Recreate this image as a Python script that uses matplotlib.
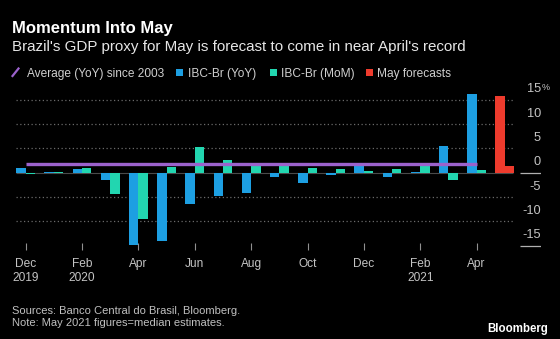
import matplotlib
matplotlib.use("Agg")
import matplotlib.pyplot as plt
import matplotlib.transforms as mtransforms
from matplotlib.lines import Line2D
from matplotlib.patches import Rectangle
import numpy as np

# ---------------- data ----------------
months = ["Dec 2019", "Jan 2020", "Feb 2020", "Mar 2020", "Apr 2020", "May 2020",
          "Jun 2020", "Jul 2020", "Aug 2020", "Sep 2020", "Oct 2020", "Nov 2020",
          "Dec 2020", "Jan 2021", "Feb 2021", "Mar 2021", "Apr 2021"]
yoy = [0.95, 0.2, 0.7, -1.6, -14.8, -14.0, -6.4, -4.8, -4.25, -0.8, -2.05, -0.5,
       1.9, -0.95, 0.15, 5.5, 16.2]
mom = [-0.3, 0.15, 0.95, -4.4, -9.45, 1.25, 5.35, 2.6, 1.45, 1.45, 0.9, 0.7,
       0.4, 0.7, 1.6, -1.5, 0.5]
forecast_month = "May 2021"
forecast_yoy = 15.75
forecast_mom = 1.4
avg_yoy = 1.8

xtick_labels = ["Dec\n2019", "Feb\n2020", "Apr", "Jun", "Aug", "Oct", "Dec",
                "Feb\n2021", "Apr"]
ytick_values = [15, 10, 5, 0, -5, -10, -15]
ytick_labels = ["15", "10", "5", "0", "-5", "-10", "-15"]

# ---------------- style ----------------
BG = "#000000"
C_YOY = "#1d9fe2"
C_MOM = "#22d6b0"
C_RED = "#ee3b2d"
C_AVG = "#9b62cc"
FONT = ["Liberation Sans", "DejaVu Sans"]

W, H = 560, 339
fig = plt.figure(figsize=(W / 100, H / 100), dpi=100, facecolor=BG)

def fx(px):
    return px / W

def fy(py):
    return 1 - py / H

# axes: x from 16 to 541 px, y from 85 to 250 px
ax_left, ax_right, ax_top, ax_bot = 16, 541, 85, 250
ax = fig.add_axes([fx(ax_left), fy(ax_bot), fx(ax_right - ax_left), (ax_bot - ax_top) / H])
ax.set_facecolor(BG)

x0_px, step_px = 25.7, 28.18
zero_px, unit_px = 172.7, 4.87
ax.set_xlim((ax_left - x0_px) / step_px, (ax_right - x0_px) / step_px)
ax.set_ylim(-(ax_bot - zero_px) / unit_px, (zero_px - ax_top) / unit_px)

plot_right = (513 - x0_px) / step_px
lab_l = (520 - x0_px) / step_px
lab_r = (541 - x0_px) / step_px

x = np.arange(len(months))
bw = 0.333
# gridlines
for v in ytick_values:
    if v in (0, -15):
        continue
    ax.hlines(v, ax.get_xlim()[0], plot_right, colors="#6a6a6a", linestyles=(0, (1, 2)),
              linewidth=0.9, zorder=1)
ax.hlines(0, ax.get_xlim()[0], plot_right, colors="#4a4a4a", linewidth=0.8, zorder=1)
ax.hlines([0, -15], lab_l, lab_r, colors="#b0b0b0", linewidth=0.9, zorder=1)

ax.bar(x - bw / 2, yoy, width=bw, color=C_YOY, zorder=2, linewidth=0)
ax.bar(x + bw / 2, mom, width=bw, color=C_MOM, zorder=2, linewidth=0)
xf = len(months)
ax.bar([xf - bw / 2, xf + bw / 2], [forecast_yoy, forecast_mom], width=bw,
       color=C_RED, zorder=2, linewidth=0)
ax.hlines(avg_yoy, x[0], x[-1], colors=C_AVG, linewidth=2.4, zorder=3)

# y labels above gridlines
off = mtransforms.offset_copy(ax.transData, fig=fig, x=0, y=7.4, units="points")
for v, lab in zip(ytick_values, ytick_labels):
    ax.text(lab_r, v, lab, transform=off, ha="right", va="center", color="#c4c4c4",
            fontsize=9.2, family=FONT)
ax.text(lab_r, 15, "%", transform=mtransforms.offset_copy(ax.transData, fig=fig, x=0.5, y=9, units="points"),
        ha="left", va="center", color="#c4c4c4", fontsize=6.5, family=FONT)

# x ticks
ax.set_xticks(x[::2])
ax.set_xticklabels(xtick_labels, fontsize=8.6, color="#c4c4c4", family=FONT,
                   linespacing=1.3)
ax.tick_params(axis="x", direction="in", length=5, width=0.8, color="#909090", pad=5.5)
ax.tick_params(axis="y", left=False, labelleft=False)
for s in ax.spines.values():
    s.set_visible(False)

# ---------------- text ----------------
fig.text(fx(12), fy(33), "Momentum Into May", color="white", fontsize=12,
         fontweight="bold", family=FONT, va="baseline", ha="left")
fig.text(fx(12), fy(50.7), "Brazil's GDP proxy for May is forecast to come in near April's record",
         color="#e6e6e6", fontsize=10.9, family=FONT, va="baseline", ha="left")

# legend
leg_base = fy(76.7)
fig.add_artist(Line2D([fx(12.5), fx(18.5)], [fy(76), fy(68.5)], color=C_AVG, linewidth=1.6))
fig.text(fx(27), leg_base, "Average (YoY) since 2003", color="#cfcfcf", fontsize=8.6,
         family=FONT, va="baseline", ha="left")
for xs, col, lab, xt in [(176, C_YOY, "IBC-Br (YoY)", 188),
                         (269.5, C_MOM, "IBC-Br (MoM)", 281),
                         (366, C_RED, "May forecasts", 377)]:
    fig.add_artist(Rectangle((fx(xs), fy(76)), fx(7), 7 / H, color=col, linewidth=0))
    fig.text(fx(xt), leg_base, lab, color="#cfcfcf", fontsize=8.6, family=FONT,
             va="baseline", ha="left")

# footer
fig.text(fx(12), fy(314), "Sources: Banco Central do Brasil, Bloomberg.", color="#c0c0c0",
         fontsize=8.0, family=FONT, va="baseline", ha="left")
fig.text(fx(12), fy(326), "Note: May 2021 figures=median estimates.", color="#c0c0c0",
         fontsize=8.0, family=FONT, va="baseline", ha="left")
fig.text(fx(548), fy(331.7), "Bloomberg", color="white", fontsize=8.3, fontweight="bold",
         family=FONT, va="baseline", ha="right")

fig.savefig("out.png", dpi=100, facecolor=BG)
